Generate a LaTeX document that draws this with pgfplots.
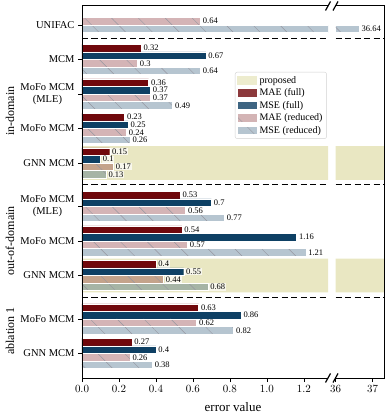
\documentclass[border=0pt]{standalone}
\usepackage{pgfplots}
\pgfplotsset{compat=1.18}
\usepackage{pgfplotstable}
\usepackage{fontspec}
\setmainfont{Liberation Serif}
\usetikzlibrary{patterns.meta,calc}

\definecolor{maecol}{RGB}{112,8,12}
\definecolor{msecol}{RGB}{14,64,100}
\definecolor{propcol}{RGB}{233,231,194}
\definecolor{hatchcol}{RGB}{150,150,160}

\pgfplotstableread{
pos maef msef maer mser
1 0.32 0.67 0.3 0.64
2 0.36 0.37 0.37 0.49
3 0.23 0.25 0.24 0.26
4 0.15 0.1 0.17 0.13
5.26 0.53 0.7 0.56 0.77
6.26 0.54 1.16 0.57 1.21
7.26 0.4 0.55 0.44 0.68
8.52 0.63 0.86 0.62 0.82
9.52 0.27 0.4 0.26 0.38
}\results

\pgfplotsset{
  barbase/.style={draw=white, line width=0.4pt, bar width=0.22},
  vlabels/.style={point meta=x, nodes near coords={\pgfmathprintnumber[assume math mode=true]{\pgfplotspointmeta}},
    every node near coord/.append style={font=\fontsize{8.5}{9}\selectfont, fill=white, fill opacity=0.7,
      text opacity=1, draw=none, inner sep=0.8pt, anchor=west, xshift=1.5pt, text=black}},
  hatch/.style={postaction={fill opacity=0.8, pattern={Lines[angle=-45,distance=19pt,line width=0.45pt]}, pattern color=hatchcol}},
  maefull/.style={barbase, vlabels, fill=maecol, bar shift=-0.33},
  msefull/.style={barbase, vlabels, fill=msecol, bar shift=-0.11},
  maered/.style={barbase, fill=maecol, fill opacity=0.3, hatch, bar shift=0.11},
  msered/.style={barbase, fill=msecol, fill opacity=0.3, hatch, bar shift=0.33},
  prop/.style={fill=propcol, draw=none, bar width=0.974, bar shift=0},
  sep/.style={forget plot, sharp plot, black, line width=1.2pt, dash pattern=on 6pt off 3.5pt},
  lbl/.style={forget plot, draw=none, fill=none, bar width=0.22, vlabels},
  common/.style={scale only axis, height=372pt, xbar, ymin=-0.551, ymax=10.232, y dir=reverse,
    axis line style={draw=none}, clip mode=individual, tick align=outside, xtick pos=bottom,
    major tick length=4pt, tick style={black, line width=0.8pt},
    xticklabel style={font=\fontsize{10.5}{12}\selectfont},
    every axis plot post/.append style={legend image code/.code={\fill[##1, sharp corners] (0pt,-4.25pt) rectangle (20pt,4.25pt);}}},
}

\begin{document}
\begin{tikzpicture}
\path[use as bounding box] (-82pt,-39pt) rectangle (305pt,378pt);
\begin{axis}[common, name=L, at={(0pt,0pt)}, anchor=south west, width=246pt,
  xmin=0, xmax=1.33, ytick pos=left,
  xtick={0,0.2,0.4,0.6,0.8,1.0,1.2},
  xticklabels={$0.0$,$0.2$,$0.4$,$0.6$,$0.8$,$1.0$,$1.2$},
  ytick={0,1,2,3,4,5.26,6.26,7.26,8.52,9.52},
  yticklabels={UNIFAC,MCM,{MoFo MCM\\(MLE)},MoFo MCM,GNN MCM,{MoFo MCM\\(MLE)},MoFo MCM,GNN MCM,MoFo MCM,GNN MCM},
  yticklabel style={align=center, font=\fontsize{10.5}{12}\selectfont},
  legend cell align=left,
  legend style={at={(0.995,0.8226)}, anchor=north east, font=\fontsize{10}{12}\selectfont,
    draw=gray!35, fill=white, fill opacity=0.8, text opacity=1, rounded corners=2pt,
    inner sep=2pt, nodes={inner sep=2pt}, row sep=0pt},
]
\addplot[prop] coordinates {(1.33,4) (1.33,7.26)};
\addlegendentry{proposed}
\addplot[sep] coordinates {(0,0.39) (1.33,0.39)};
\addplot[sep] coordinates {(0,4.63) (1.33,4.63)};
\addplot[sep] coordinates {(0,7.89) (1.33,7.89)};
\addplot[maefull] table[x=maef, y=pos] {\results};
\addlegendentry{MAE (full)}
\addplot[msefull] table[x=msef, y=pos] {\results};
\addlegendentry{MSE (full)}
\addplot[maered] table[x=maer, y=pos] {\results};
\addlegendentry{MAE (reduced)}
\addplot[msered] table[x=mser, y=pos] {\results};
\addlegendentry{MSE (reduced)}
% UNIFAC: reduced metrics only
\addplot[maered, forget plot, bar shift=-0.11] coordinates {(0.64,0)};
\addplot[msered, forget plot, bar shift=0.11] coordinates {(36.64,0)};
% labels for reduced bars (drawn on top)
\addplot[lbl, bar shift=0.11] table[x=maer, y=pos] {\results};
\addplot[lbl, bar shift=0.33] table[x=mser, y=pos] {\results};
\addplot[lbl, bar shift=-0.11] coordinates {(0.64,0)};
\end{axis}
\begin{axis}[common, name=R, at={(253.5pt,0pt)}, anchor=south west, width=48.5pt,
  xmin=36, xmax=37.31, ytick=\empty, xtick={36,37}, xticklabels={$36$,$37$}]
\addplot[prop] coordinates {(37.31,4) (37.31,7.26)};
\addplot[sep] coordinates {(36,0.39) (37.31,0.39)};
\addplot[sep] coordinates {(36,4.63) (37.31,4.63)};
\addplot[sep] coordinates {(36,7.89) (37.31,7.89)};
\addplot[msered, forget plot, bar shift=0.11] coordinates {(36.64,0)};
\addplot[lbl, bar shift=0.11] coordinates {(36.64,0)};
\end{axis}
\draw[line width=1pt] (L.north east) -- (L.north west) -- (L.south west) -- (L.south east);
\draw[line width=1pt] (R.north west) -- (R.north east) -- (R.south east) -- (R.south west);
\foreach \p in {L.north east, L.south east, R.north west, R.south west}
  \draw[line width=1.2pt] ([shift={(-2.5pt,-4.5pt)}]\p) -- ++(5pt,9pt);
% group captions: y = 372 - (pos+0.551)*34.5
\node[rotate=90, anchor=center, font=\fontsize{12}{14}\selectfont] at (-72pt,266.7pt) {in-domain};
\node[rotate=90, anchor=center, font=\fontsize{12}{14}\selectfont] at (-72pt,137.0pt) {out-of-domain};
\node[rotate=90, anchor=center, font=\fontsize{12}{14}\selectfont] at (-72pt,47.0pt) {ablation 1};
\node[font=\fontsize{13}{15}\selectfont] at ($(L.south west)!0.5!(R.south east)+(0,-29pt)$) {error value};
\end{tikzpicture}
\end{document}
